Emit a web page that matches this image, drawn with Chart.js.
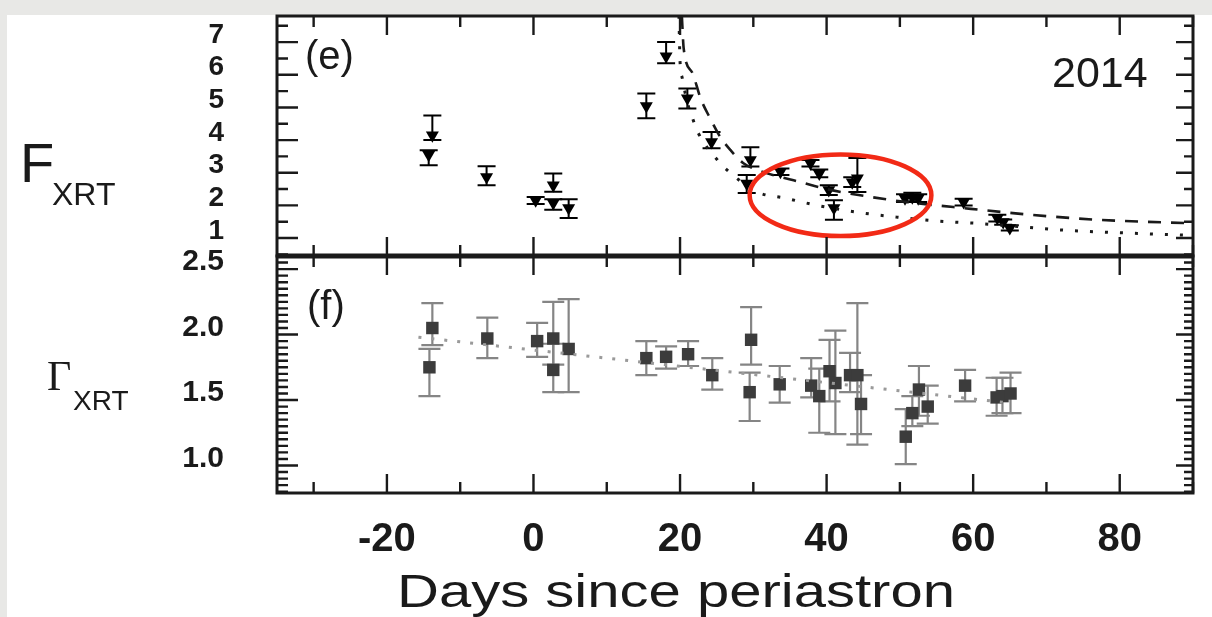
<!DOCTYPE html>
<html>
<head>
<meta charset="utf-8">
<script src="https://cdn.jsdelivr.net/npm/chart.js@4.4.1/dist/chart.umd.min.js"></script>
<style>
html,body{margin:0;padding:0;width:1212px;height:617px;overflow:hidden;background:#e8e8e6;}
#paper{position:absolute;left:7px;top:15px;width:1205px;height:602px;background:#ffffff;}
canvas{position:absolute;left:0;top:0;}
svg{position:absolute;left:0;top:0;}
svg text{fill:#1a1a1a;font-family:'Liberation Sans',Arial,sans-serif;}
</style>
</head>
<body>
<div id="paper"></div>
<canvas id="topPanel" width="1212" height="617" style="width:1212px;height:617px"></canvas>
<canvas id="botPanel" width="1212" height="617" style="width:1212px;height:617px"></canvas>
<svg width="1212" height="617" xmlns="http://www.w3.org/2000/svg">
  <text x="20" y="182" font-size="56">F</text>
  <text x="52" y="205" font-size="32">XRT</text>
  <text x="47" y="390" font-size="42" style="font-family:'Liberation Serif','Times New Roman',serif">Γ</text>
  <text x="73" y="410" font-size="28">XRT</text>
  <text x="305" y="69" font-size="40">(e)</text>
  <text x="307" y="319" font-size="40">(f)</text>
  <text x="1052" y="87" font-size="43">2014</text>
  <text x="397" y="607" font-size="46" textLength="558" lengthAdjust="spacingAndGlyphs">Days since periastron</text>
</svg>
<script>
// ---------------- data ----------------
const dayMin = -35, dayMax = 90;
const dayTicks = [-20, 0, 20, 40, 60, 80];
const dayMinorTicks = [-30, -10, 10, 30, 50, 70, 90];

// Panel (e): XRT flux
const fluxDays  = [-13.8, -14.3, -6.4, 0.3, 2.7, 2.7, 4.8, 15.4, 18.1, 21.0, 24.3, 29.6, 29.1, 33.7, 37.8, 39.0, 40.3, 41.0, 43.5, 44.2, 50.7, 51.7, 52.5, 58.7, 63.3, 64.1, 65.0];
const flux      = [4.15, 3.55, 2.87, 2.16, 2.62, 2.07, 1.92, 5.04, 6.57, 5.28, 3.94, 3.39, 2.67, 3.03, 3.29, 2.98, 2.47, 1.92, 2.71, 2.83, 2.22, 2.25, 2.22, 2.10, 1.61, 1.49, 1.31];
const fluxErrLo = [0.15, 0.32, 0.25, 0.12, 0.20, 0.20, 0.31, 0.37, 0.22, 0.31, 0.19, 0.20, 0.29, 0.10, 0.10, 0.12, 0.15, 0.36, 0.15, 0.42, 0.12, 0.12, 0.12, 0.10, 0.10, 0.08, 0.08];
const fluxErrHi = [0.60, 0.14, 0.33, 0.10, 0.36, 0.12, 0.27, 0.39, 0.43, 0.30, 0.31, 0.39, 0.26, 0.10, 0.10, 0.12, 0.15, 0.24, 0.15, 0.62, 0.12, 0.14, 0.12, 0.10, 0.10, 0.08, 0.08];
const fluxTicks = [1, 2, 3, 4, 5, 6, 7];
const fluxMin = 0.45, fluxMax = 7.8;

// decay curves
const dashDays = [20.25, 20.5, 21.7, 22.8, 24.1, 25.5, 26.9, 28.6, 31.0, 35.5, 40.0, 45.7, 51.0, 57.3, 67.5, 76.9, 90];
const dashFlux = [7.8, 6.8, 6.05, 5.28, 4.67, 4.09, 3.69, 3.30, 3.05, 2.77, 2.50, 2.27, 2.10, 1.95, 1.72, 1.56, 1.45];
const dotDays  = [19.85, 20.0, 20.3, 21.0, 21.7, 22.5, 25.1, 26.9, 30.5, 34.4, 38.5, 43.9, 49.6, 55.2, 61.2, 66.7, 73.2, 80.3, 90];
const dotFlux  = [7.8, 6.4, 5.9, 5.15, 4.67, 4.21, 3.39, 2.99, 2.41, 2.22, 2.01, 1.80, 1.64, 1.52, 1.44, 1.34, 1.23, 1.16, 1.08];

// Panel (f): photon index
const gammaDays  = [-13.8, -14.2, -6.3, 0.5, 2.7, 2.7, 4.8, 15.4, 18.1, 21.1, 24.4, 29.7, 29.5, 33.6, 37.9, 39.0, 40.4, 41.2, 43.2, 44.2, 44.7, 50.8, 51.7, 52.6, 53.8, 58.9, 63.2, 64.0, 65.1];
const gamma      = [2.05, 1.75, 1.97, 1.95, 1.97, 1.73, 1.89, 1.82, 1.83, 1.85, 1.69, 1.96, 1.56, 1.62, 1.61, 1.53, 1.72, 1.63, 1.69, 1.69, 1.47, 1.22, 1.40, 1.58, 1.45, 1.61, 1.52, 1.53, 1.55];
const gammaErrLo = [0.13, 0.22, 0.15, 0.12, 0.20, 0.17, 0.33, 0.13, 0.09, 0.09, 0.11, 0.19, 0.22, 0.14, 0.09, 0.28, 0.23, 0.39, 0.13, 0.53, 0.23, 0.21, 0.10, 0.20, 0.13, 0.12, 0.14, 0.13, 0.15];
const gammaErrHi = [0.19, 0.14, 0.16, 0.14, 0.28, 0.20, 0.38, 0.13, 0.08, 0.10, 0.13, 0.25, 0.15, 0.14, 0.21, 0.21, 0.24, 0.40, 0.17, 0.55, 0.22, 0.21, 0.13, 0.18, 0.16, 0.12, 0.15, 0.14, 0.16];
const gammaFitDays = [-15.7, 64.5];
const gammaFit     = [1.98, 1.48];
const gammaTicks = [1.0, 1.5, 2.0, 2.5];
const gammaMin = 0.79, gammaMax = 2.6;

// highlighted region (data coordinates)
const ringCenter = {x: 41.9, y: 2.31};
const ringRadius = {x: 12.4, y: 1.25};

// ---------------- helpers ----------------
const FONT = "'Liberation Sans', Arial, Helvetica, sans-serif";
const INK = '#1a1a1a';
const pts = (xs, ys) => xs.map((x, i) => ({x: x, y: ys[i]}));

const errorBarPlugin = {
  id: 'errorBars',
  beforeDatasetsDraw(chart) {
    const {ctx, scales: {x, y}} = chart;
    chart.data.datasets.forEach(ds => {
      if (!ds.errLo) return;
      ctx.save();
      ctx.strokeStyle = ds.errColor;
      ctx.lineWidth = ds.errWidth;
      ds.data.forEach((p, i) => {
        const px = x.getPixelForValue(p.x);
        const lo = y.getPixelForValue(p.y - ds.errLo[i]);
        const hi = y.getPixelForValue(p.y + ds.errHi[i]);
        const c = ds.capHalf;
        ctx.beginPath();
        ctx.moveTo(px, lo); ctx.lineTo(px, hi);
        ctx.moveTo(px - c, lo); ctx.lineTo(px + c, lo);
        ctx.moveTo(px - c, hi); ctx.lineTo(px + c, hi);
        ctx.stroke();
      });
      ctx.restore();
    });
  }
};

const framePlugin = {
  id: 'frame',
  afterDraw(chart, args, o) {
    const {ctx, chartArea: a, scales: {x, y}} = chart;
    ctx.save();
    ctx.strokeStyle = INK;
    ctx.lineWidth = 2.4;
    ctx.beginPath();
    const xt = (v, len) => {
      const px = x.getPixelForValue(v);
      ctx.moveTo(px, a.top); ctx.lineTo(px, a.top + len);
      ctx.moveTo(px, a.bottom); ctx.lineTo(px, a.bottom - len);
    };
    dayTicks.forEach(v => xt(v, 19));
    dayMinorTicks.forEach(v => xt(v, 11));
    const yt = (v, lenL, lenR) => {
      if (v < y.min - 1e-9 || v > y.max + 1e-9) return;
      const py = y.getPixelForValue(v);
      ctx.moveTo(a.left, py); ctx.lineTo(a.left + lenL, py);
      ctx.moveTo(a.right, py); ctx.lineTo(a.right - lenR, py);
    };
    o.yMajor.forEach(v => yt(v, 21, 17));
    for (let k = Math.ceil(y.min / o.yMinorStep); k * o.yMinorStep <= y.max + 1e-9; k++) {
      const v = k * o.yMinorStep;
      if (o.yMajor.some(m => Math.abs(m - v) < 1e-6)) continue;
      yt(v, 11, 9);
    }
    ctx.stroke();
    ctx.lineWidth = 3;
    ctx.strokeRect(a.left, a.top, a.right - a.left, a.bottom - a.top);
    if (o.thickTop) {
      ctx.lineWidth = 5;
      ctx.beginPath(); ctx.moveTo(a.left - 1, a.top); ctx.lineTo(a.right + 1, a.top); ctx.stroke();
    }
    ctx.restore();
  }
};

const ringPlugin = {
  id: 'ring',
  afterDatasetsDraw(chart) {
    const {ctx, scales: {x, y}} = chart;
    const cx = x.getPixelForValue(ringCenter.x), cy = y.getPixelForValue(ringCenter.y);
    const rx = x.getPixelForValue(ringCenter.x + ringRadius.x) - cx;
    const ry = cy - y.getPixelForValue(ringCenter.y + ringRadius.y);
    ctx.save();
    ctx.strokeStyle = 'rgb(242,42,22)';
    ctx.lineWidth = 4.5;
    ctx.beginPath();
    ctx.ellipse(cx, cy, rx, ry, 0, 0, Math.PI * 2);
    ctx.stroke();
    ctx.restore();
  }
};

// fixed-width y axis that does not push the plot area with label padding
const fixYAxis = s => { s.width = 277; s.paddingTop = 0; s.paddingBottom = 0; };

const common = {
  responsive: false,
  animation: false,
  devicePixelRatio: 1,
  events: []
};

// ---------------- panel (e) ----------------
new Chart(document.getElementById('topPanel'), {
  type: 'scatter',
  data: {
    datasets: [
      {data: pts(dashDays, dashFlux), showLine: true, borderColor: INK, borderWidth: 2.6,
       borderDash: [13, 10], pointRadius: 0, cubicInterpolationMode: 'monotone'},
      {data: pts(dotDays, dotFlux), showLine: true, borderColor: INK, borderWidth: 3,
       borderDash: [3, 12], pointRadius: 0, cubicInterpolationMode: 'monotone'},
      {data: pts(fluxDays, flux), showLine: false, pointStyle: 'triangle', pointRotation: 180,
       pointRadius: 7.5, pointBackgroundColor: '#000', pointBorderColor: '#000', pointBorderWidth: 0,
       errLo: fluxErrLo, errHi: fluxErrHi, errColor: '#000', errWidth: 2, capHalf: 9}
    ]
  },
  options: Object.assign({}, common, {
    layout: {padding: {left: 0, top: 16, right: 19, bottom: 361}},
    plugins: {legend: {display: false}, tooltip: {enabled: false},
              frame: {yMajor: fluxTicks, yMinorStep: 0.5, thickTop: false}},
    scales: {
      x: {type: 'linear', min: dayMin, max: dayMax, display: false},
      y: {type: 'linear', min: fluxMin, max: fluxMax,
          grid: {display: false}, border: {display: false},
          afterBuildTicks: s => { s.ticks = fluxTicks.map(v => ({value: v})); },
          afterFit: fixYAxis,
          ticks: {padding: 45, labelOffset: -7, color: INK,
                  font: {family: FONT, size: 28, weight: 'bold'},
                  callback: v => String(v)}}
    }
  }),
  plugins: [errorBarPlugin, ringPlugin, framePlugin]
});

// ---------------- panel (f) ----------------
new Chart(document.getElementById('botPanel'), {
  type: 'scatter',
  data: {
    datasets: [
      {data: pts(gammaFitDays, gammaFit), showLine: true, borderColor: '#9a9a9a',
       borderWidth: 3, borderDash: [3, 10], pointRadius: 0},
      {data: pts(gammaDays, gamma), showLine: false, pointStyle: 'rect',
       pointRadius: 8.8, pointBackgroundColor: '#3c3c3c', pointBorderColor: '#3c3c3c', pointBorderWidth: 0,
       errLo: gammaErrLo, errHi: gammaErrHi, errColor: '#858585', errWidth: 2.2, capHalf: 11}
    ]
  },
  options: Object.assign({}, common, {
    layout: {padding: {left: 0, top: 256, right: 19, bottom: 0}},
    plugins: {legend: {display: false}, tooltip: {enabled: false},
              frame: {yMajor: gammaTicks, yMinorStep: 0.05, thickTop: true}},
    scales: {
      x: {type: 'linear', min: dayMin, max: dayMax,
          grid: {display: false}, border: {display: false},
          afterBuildTicks: s => { s.ticks = dayTicks.map(v => ({value: v})); },
          afterFit: s => { s.height = 124; },
          ticks: {padding: 15, color: INK, maxRotation: 0, autoSkip: false,
                  font: {family: FONT, size: 40, weight: 'bold'},
                  callback: v => String(v)}},
      y: {type: 'linear', min: gammaMin, max: gammaMax,
          grid: {display: false}, border: {display: false},
          afterBuildTicks: s => { s.ticks = gammaTicks.map(v => ({value: v})); },
          afterFit: fixYAxis,
          ticks: {padding: 45, labelOffset: -7, color: INK,
                  font: {family: FONT, size: 30, weight: 'bold'},
                  callback: v => Number(v).toFixed(1)}}
    }
  }),
  plugins: [errorBarPlugin, framePlugin]
});
</script>
</body>
</html>
